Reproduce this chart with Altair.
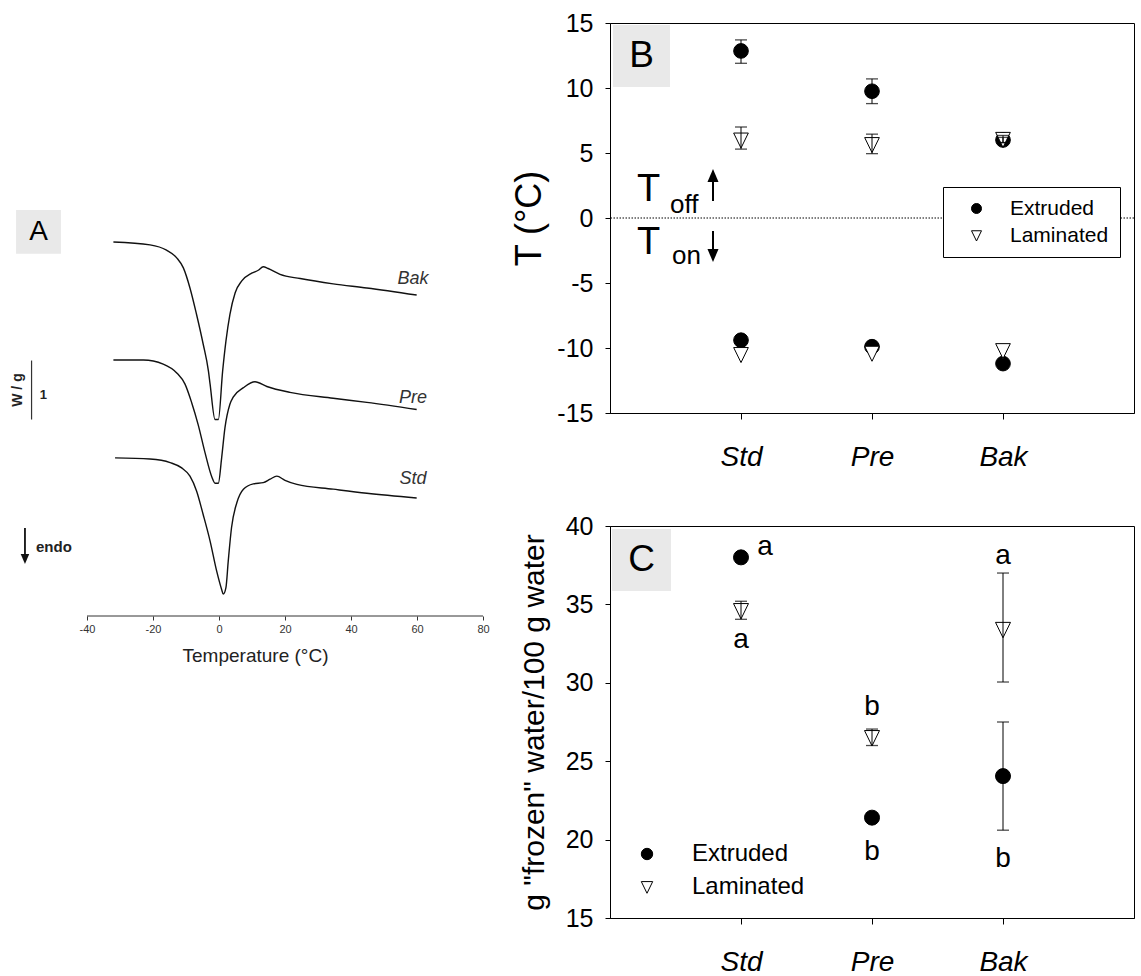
import altair as alt
import pandas as pd

FONT = "Liberation Sans, Arial, Helvetica, sans-serif"
# tick labels written with a plain hyphen for negative numbers
HYPHEN_LABELS = "datum.value < 0 ? '-' + abs(datum.value) : '' + datum.value"

# ---------------- Panel A: DSC heat-flow traces (W/g, traces offset vertically) ----------------
bak_temp = [-32.0, -20.9, -15.9, -12.8, -10.8, -8.8, -6.8, -4.8, -3.2, -2.7, -1.2, -0.2, 1.1,
            2.1, 3.3, 4.9, 6.9, 9.9, 11.9, 13.4, 14.9, 18.5, 24.6, 34.6, 44.8, 59.9]
bak_flow = [6.34, 6.29, 6.20, 6.07, 5.90, 5.56, 5.11, 4.61, 4.15, 3.93, 3.33, 3.33, 4.15,
            4.66, 5.11, 5.48, 5.68, 5.81, 5.86, 5.92, 5.89, 5.79, 5.72, 5.63, 5.56, 5.44]

pre_temp = [-32.0, -22.9, -16.9, -12.8, -10.3, -8.3, -6.3, -4.2, -2.2, -1.2, -0.2, 0.8,
            1.8, 3.3, 4.3, 7.4, 10.9, 14.5, 21.5, 34.6, 44.8, 59.9]
pre_flow = [4.34, 4.34, 4.27, 4.12, 3.93, 3.62, 3.24, 2.76, 2.36, 2.25, 2.25, 2.68,
            3.19, 3.59, 3.71, 3.87, 3.97, 3.89, 3.79, 3.69, 3.62, 3.50]

std_temp = [-31.5, -20.9, -14.8, -11.3, -8.8, -6.8, -4.8, -2.7, -0.7, 0.8, 1.3, 2.1, 2.8,
            3.8, 5.4, 7.4, 10.4, 13.4, 15.5, 17.5, 20.0, 23.6, 34.6, 44.8, 59.9]
std_flow = [2.68, 2.66, 2.60, 2.51, 2.37, 2.12, 1.72, 1.27, 0.76, 0.45, 0.37, 0.48, 0.93,
            1.50, 1.92, 2.15, 2.24, 2.26, 2.32, 2.37, 2.30, 2.23, 2.15, 2.08, 2.00]

temp_ticks = [-40, -20, 0, 20, 40, 60, 80]

# ---------------- Panels B and C ----------------
groups = ["Std", "Pre", "Bak"]
series = ["Extruded", "Laminated"]

# B: offset (T_off, above 0) and onset (T_on, below 0) temperatures, degC
toff_ext = [12.85, 9.75, 6.0]
toff_ext_lo = [11.9, 8.8, 5.8]
toff_ext_hi = [13.7, 10.7, 6.2]
toff_lam = [6.0, 5.65, 6.05]
toff_lam_lo = [5.3, 4.95, 5.8]
toff_lam_hi = [7.0, 6.45, 6.35]
ton_ext = [-9.4, -9.9, -11.2]
ton_lam = [-10.5, -10.4, -10.2]

# C: "frozen" water, g / 100 g water
frz_ext = [38.0, 21.4, 24.05]
frz_ext_lo = [37.7, 21.15, 20.6]
frz_ext_hi = [38.3, 21.65, 27.5]
frz_lam = [34.6, 26.5, 33.4]
frz_lam_lo = [34.05, 26.0, 30.05]
frz_lam_hi = [35.2, 27.05, 37.0]
letters_ext = ["a", "b", "b"]
letters_lam = ["a", "b", "a"]

TRI_DOWN = "M-1,-0.95L1,-0.95L0,1.1Z"
HEAD_UP = "M0,-1L0.85,1L-0.85,1Z"
HEAD_DOWN = "M0,1L0.85,-1L-0.85,-1Z"

one = pd.DataFrame({"k": [0]})

# ================= Panel A =================
curves = pd.concat([
    pd.DataFrame({"curve": "Bak", "temp": bak_temp, "flow": bak_flow}),
    pd.DataFrame({"curve": "Pre", "temp": pre_temp, "flow": pre_flow}),
    pd.DataFrame({"curve": "Std", "temp": std_temp, "flow": std_flow}),
], ignore_index=True)

xa = alt.Scale(domain=[-66.364, 82.121], nice=False, zero=False)
ya = alt.Scale(domain=[0, 10.051], nice=False, zero=False)
ax_a = alt.Axis(values=temp_ticks, domain=False, grid=False, tickSize=4, tickColor="#333",
                labelColor="#333", labelFontSize=11, labelPadding=3, labelFlush=False,
                labelExpr=HYPHEN_LABELS,
                title="Temperature (°C)", titleFontSize=19, titleFontWeight="normal",
                titleColor="#222", titlePadding=12, titleX=255)


def ax(v):
    return alt.XDatum(v, scale=xa, axis=ax_a)


def ay(v):
    return alt.YDatum(v, scale=ya, axis=None)


a_lines = alt.Chart(curves).mark_line(
    color="#111", strokeWidth=1.4, interpolate="monotone"
).encode(
    x=alt.X("temp:Q", scale=xa, axis=ax_a, title="Temperature (°C)"),
    y=alt.Y("flow:Q", scale=ya, axis=None),
    detail="curve:N",
)

a_layers = [a_lines]
# axis line drawn only across the labelled temperature range
a_layers.append(alt.Chart(one).mark_rule(color="#333", strokeWidth=1).encode(
    x=ax(temp_ticks[0]), x2=alt.X2Datum(temp_ticks[-1]), y=ay(0)))

# curve names just above the right-hand end of each trace
for name, t, f, dy in [("Bak", bak_temp, bak_flow, -16), ("Pre", pre_temp, pre_flow, -12),
                       ("Std", std_temp, std_flow, -19)]:
    lab = pd.DataFrame({"curve": [name], "temp": [t[-1] - 1.1], "flow": [f[-1]]})
    a_layers.append(alt.Chart(lab).mark_text(
        fontSize=18, fontStyle="italic", color="#333", dy=dy, baseline="middle"
    ).encode(x=alt.X("temp:Q", scale=xa, axis=ax_a, title="Temperature (°C)"),
             y=alt.Y("flow:Q", scale=ya, axis=None), text="curve:N"))

# 1 W/g scale bar, the endotherm direction arrow and the panel tag
a_layers += [
    alt.Chart(one).mark_rule(color="#333", strokeWidth=1.2).encode(
        x=ax(-56.8), y=ay(3.33), y2=alt.Y2Datum(4.33)),
    alt.Chart(one).mark_text(angle=270, fontSize=14, fontWeight="bold", color="#222").encode(
        x=ax(-60.9), y=ay(3.83), text=alt.value("W / g")),
    alt.Chart(one).mark_text(fontSize=13, fontWeight="bold", color="#222").encode(
        x=ax(-53.2), y=ay(3.75), text=alt.value("1")),
    alt.Chart(one).mark_rule(color="#111", strokeWidth=1.8).encode(
        x=ax(-58.8), y=ay(1.49), y2=alt.Y2Datum(1.0)),
    alt.Chart(one).mark_point(shape=HEAD_DOWN, filled=True, color="#111", size=100, opacity=1).encode(
        x=ax(-58.8), y=ay(0.966)),
    alt.Chart(one).mark_text(fontSize=15, fontWeight="bold", color="#222", align="left").encode(
        x=ax(-55.45), y=ay(1.17), text=alt.value("endo")),
    alt.Chart(one).mark_rect(fill="#e9e9e9").encode(
        x=ax(-61.5), x2=alt.X2Datum(-47.9), y=ay(6.14), y2=alt.Y2Datum(6.88)),
    alt.Chart(one).mark_text(fontSize=28, color="black").encode(
        x=ax(-54.7), y=ay(6.51), text=alt.value("A")),
]

panel_a = alt.layer(*a_layers).properties(width=490, height=593)


# ================= helpers for B and C =================
def point_table(ext, lam):
    rows = []
    for vals, s in [(ext, "Extruded"), (lam, "Laminated")]:
        for block in vals:
            for g, v in zip(groups, block):
                rows.append({"group": g, "series": s, "value": v})
    return pd.DataFrame(rows)


def err_table(pairs):
    rows = []
    for s, lo, hi in pairs:
        for g, a, b in zip(groups, lo, hi):
            rows.append({"group": g, "series": s, "lo": a, "hi": b})
    return pd.DataFrame(rows)


X_AXIS = alt.Axis(labelFontSize=28, labelFontStyle="italic", labelColor="black", labelAngle=0,
                  tickSize=6, tickColor="black", domainColor="black", labelPadding=24,
                  grid=False, title=None)


def y_axis(title, title_size, title_pad, values):
    return alt.Axis(values=values, labelFontSize=25, labelColor="black", labelFlush=False,
                    labelExpr=HYPHEN_LABELS,
                    tickSize=5, tickColor="black", domainColor="black", labelPadding=12,
                    grid=False, title=title, titleFontSize=title_size, titleFontWeight="normal",
                    titleColor="black", titlePadding=title_pad)


class Panel:
    def __init__(self, xs, ys, yax, ytitle):
        self.xs, self.ys, self.yax, self.ytitle = xs, ys, yax, ytitle

    def x(self):
        return alt.X("group:N", scale=self.xs, axis=X_AXIS, title=None)

    def y(self, field):
        return alt.Y(f"{field}:Q", scale=self.ys, axis=self.yax, title=self.ytitle)

    def markers(self, df, legend, size):
        shape_scale = alt.Scale(domain=series, range=["circle", TRI_DOWN])
        fill_scale = alt.Scale(domain=series, range=["black", "white"])
        stroke_scale = alt.Scale(domain=series, range=["black", "black"])
        return alt.Chart(df).mark_point(filled=True, strokeWidth=1, size=size, opacity=1).encode(
            x=self.x(), y=self.y("value"),
            shape=alt.Shape("series:N", scale=shape_scale, legend=legend),
            fill=alt.Fill("series:N", scale=fill_scale, legend=legend),
            stroke=alt.Stroke("series:N", scale=stroke_scale, legend=legend),
        )

    def error_bars(self, df, cap):
        base = alt.Chart(df)
        return [
            base.mark_rule(color="black", strokeWidth=1).encode(
                x=self.x(), y=self.y("lo"), y2="hi:Q"),
            base.mark_tick(color="black", thickness=1.3, size=cap, orient="horizontal").encode(
                x=self.x(), y=self.y("lo")),
            base.mark_tick(color="black", thickness=1.3, size=cap, orient="horizontal").encode(
                x=self.x(), y=self.y("hi")),
        ]


def panel_tag(letter, x0, x1, y0, y1):
    return [
        alt.Chart(one).mark_rect(fill="#e9e9e9").encode(
            x=alt.value(x0), x2=alt.value(x1), y=alt.value(y0), y2=alt.value(y1)),
        alt.Chart(one).mark_text(fontSize=37, color="black").encode(
            x=alt.value((x0 + x1) / 2), y=alt.value((y0 + y1) / 2), text=alt.value(letter)),
    ]


# ================= Panel B =================
pb = Panel(alt.Scale(type="point", domain=groups, padding=1),
           alt.Scale(domain=[-15, 15], nice=False, zero=False),
           y_axis("T (°C)", 36, 8, list(range(-15, 16, 5))), "T (°C)")

b_pts = point_table([toff_ext, ton_ext], [toff_lam, ton_lam])
b_err = err_table([("Extruded", toff_ext_lo, toff_ext_hi), ("Laminated", toff_lam_lo, toff_lam_hi)])

legend_b = alt.Legend(title=None, orient="none", legendX=333, legendY=164, strokeColor="black",
                      fillColor="white", padding=11, symbolSize=100, symbolStrokeWidth=1,
                      symbolOffset=12, labelOffset=23, labelFontSize=21,
                      labelColor="black", rowPadding=5)

b_layers = [pb.markers(b_pts, legend_b, 215)]
b_layers += pb.error_bars(b_err, 12)
b_layers.append(alt.Chart(one).mark_rule(color="black", strokeWidth=1, strokeDash=[1.5, 1.5]).encode(
    y=alt.YDatum(0, scale=pb.ys, axis=pb.yax, title=pb.ytitle)))
b_layers += panel_tag("B", 3, 60, 2, 64)

# T_off / T_on key with direction arrows
b_layers += [
    alt.Chart(one).mark_text(fontSize=38, color="black", baseline="alphabetic").encode(
        x=alt.value(38.5), y=alt.value(178), text=alt.value("T")),
    alt.Chart(one).mark_text(fontSize=26, color="black", align="left", baseline="alphabetic").encode(
        x=alt.value(60), y=alt.value(190), text=alt.value("off")),
    alt.Chart(one).mark_text(fontSize=38, color="black", baseline="alphabetic").encode(
        x=alt.value(38.5), y=alt.value(231), text=alt.value("T")),
    alt.Chart(one).mark_text(fontSize=26, color="black", align="left", baseline="alphabetic").encode(
        x=alt.value(62), y=alt.value(241), text=alt.value("on")),
    alt.Chart(one).mark_rule(color="black", strokeWidth=2).encode(
        x=alt.value(103), y=alt.value(178), y2=alt.value(158)),
    alt.Chart(one).mark_point(shape=HEAD_UP, filled=True, color="black", size=169, opacity=1).encode(
        x=alt.value(103), y=alt.value(152.5)),
    alt.Chart(one).mark_rule(color="black", strokeWidth=2).encode(
        x=alt.value(103), y=alt.value(208), y2=alt.value(227)),
    alt.Chart(one).mark_point(shape=HEAD_DOWN, filled=True, color="black", size=169, opacity=1).encode(
        x=alt.value(103), y=alt.value(232.5)),
]

panel_b = alt.layer(*b_layers).properties(
    width=524, height=390, view=alt.ViewBackground(stroke="black", strokeWidth=1))

# ================= Panel C =================
c_title = 'g "frozen" water/100 g water'
pc = Panel(alt.Scale(type="point", domain=groups, padding=1),
           alt.Scale(domain=[15, 40], nice=False, zero=False),
           y_axis(c_title, 30, 16, list(range(15, 41, 5))), c_title)

c_pts = point_table([frz_ext], [frz_lam])
c_err = err_table([("Extruded", frz_ext_lo, frz_ext_hi), ("Laminated", frz_lam_lo, frz_lam_hi)])

legend_c = alt.Legend(title=None, orient="none", legendX=25, legendY=316, padding=0,
                      symbolSize=130, symbolStrokeWidth=1,
                      labelOffset=33, labelFontSize=24, labelColor="black", rowPadding=9)

c_layers = [pc.markers(c_pts, legend_c, 225)]
c_layers += pc.error_bars(c_err, 12)
c_layers += panel_tag("C", 2, 61, 3, 65)

# significance letters next to each mean
c_letters = pd.DataFrame({
    "group": groups * 2,
    "series": ["Extruded"] * 3 + ["Laminated"] * 3,
    "letter": letters_ext + letters_lam,
    "value": frz_ext + frz_lam,
    "lo": frz_ext_lo + frz_lam_lo,
    "hi": frz_ext_hi + frz_lam_hi,
})
placement = [  # (series, group, anchor, dx, dy)
    ("Extruded", "Std", "value", 24, -10),
    ("Laminated", "Std", "value", 0, 29),
    ("Laminated", "Pre", "value", 0, -31),
    ("Extruded", "Pre", "value", 0, 34),
    ("Laminated", "Bak", "hi", 0, -17),
    ("Extruded", "Bak", "lo", 0, 29),
]
for s, g, anchor, dx, dy in placement:
    row = c_letters[(c_letters.series == s) & (c_letters.group == g)]
    c_layers.append(alt.Chart(row).mark_text(
        fontSize=28, color="black", dx=dx, dy=dy, baseline="middle"
    ).encode(x=pc.x(), y=pc.y(anchor), text="letter:N"))

panel_c = alt.layer(*c_layers).properties(
    width=524, height=392, view=alt.ViewBackground(stroke="black", strokeWidth=1))

# ================= layout =================
right = alt.vconcat(panel_b, panel_c, spacing=113, bounds="flush").resolve_scale(
    shape="independent", fill="independent", stroke="independent"
).resolve_legend(shape="independent", fill="independent", stroke="independent")

chart = alt.hconcat(panel_a, right, spacing=120, bounds="flush").properties(
    padding={"left": 0, "top": 10, "right": 0, "bottom": 0}
).configure(font=FONT).configure_view(strokeWidth=0)

chart.save("out.html", embed_options={"renderer": "svg", "actions": False})
